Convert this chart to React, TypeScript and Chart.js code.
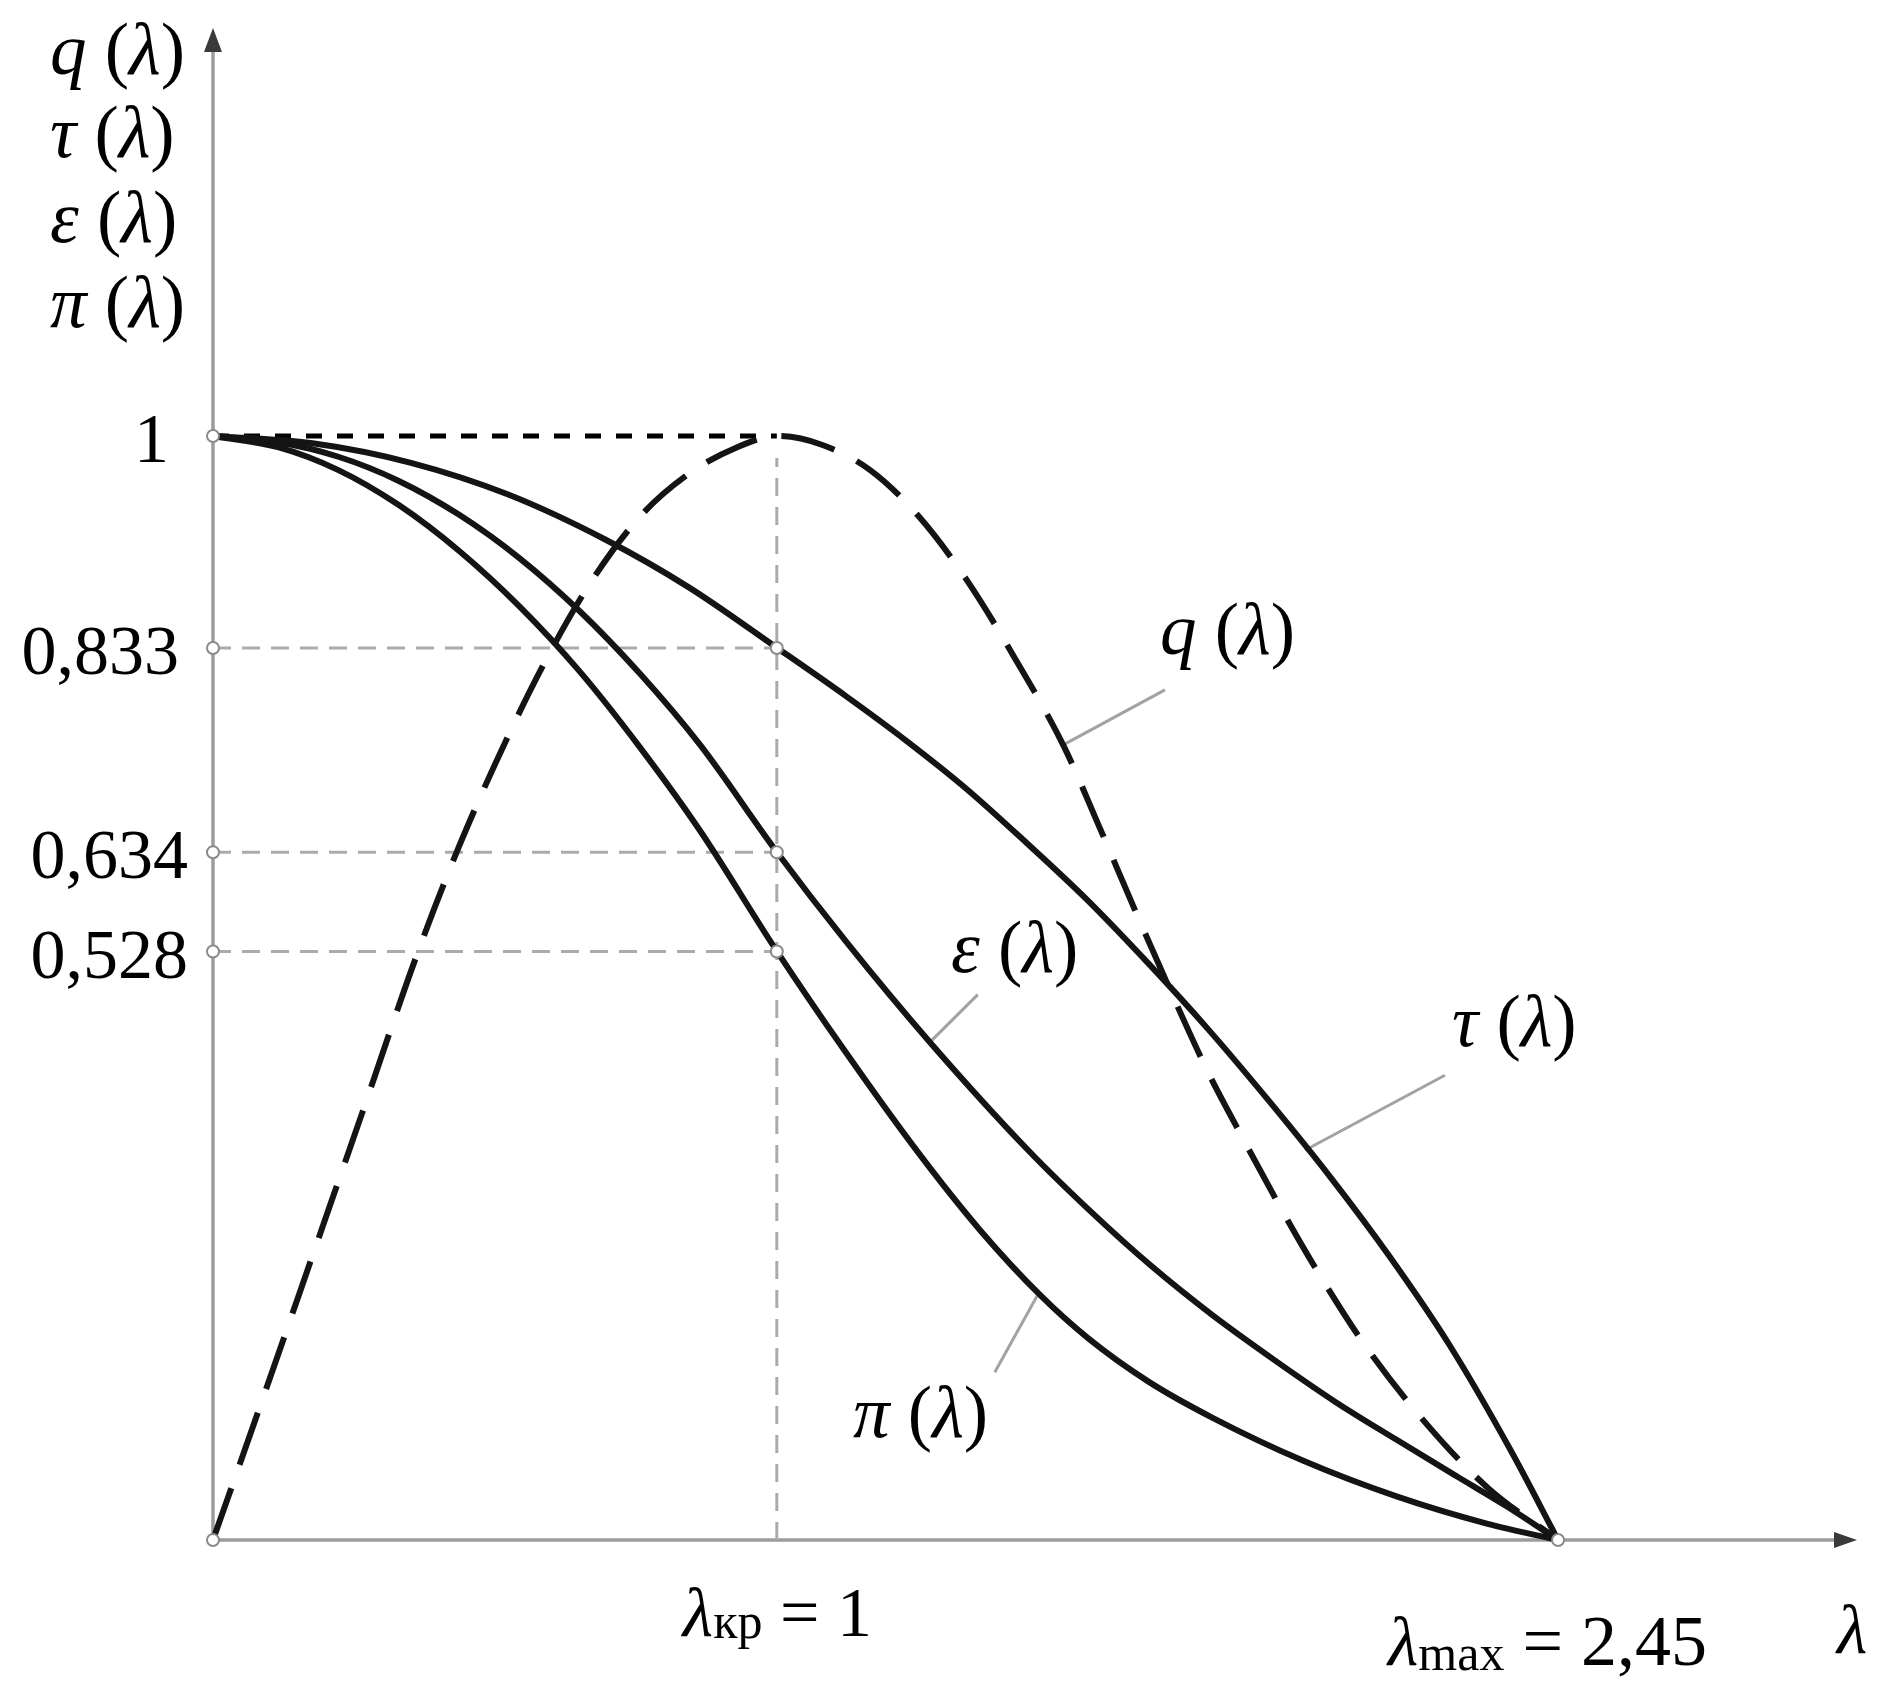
import React, { useEffect, useRef } from "react";
import { Chart, registerables } from "chart.js";

Chart.register(...registerables);

// ---- values (λ and values in the figure's drawn scale) ----
const qLambda = [0, 0.0963, 0.1844, 0.2724, 0.3715, 0.4485, 0.5366, 0.6136, 0.6907, 0.7787, 0.8668, 0.9548, 1.027, 1.1089, 1.197, 1.285, 1.3731, 1.4611, 1.5492, 1.6152, 1.6812, 1.7473, 1.8133, 1.8771, 1.9454, 2.0092, 2.0995, 2.2118, 2.3218, 2.45];
const qValues = [0, 0.1361, 0.262, 0.3878, 0.5302, 0.6287, 0.7272, 0.8038, 0.8695, 0.9275, 0.9658, 0.9899, 1.0, 0.9921, 0.9691, 0.9275, 0.8695, 0.7983, 0.7195, 0.6451, 0.5685, 0.494, 0.4229, 0.3627, 0.3003, 0.2455, 0.1755, 0.1043, 0.0474, 0];

const tauLambda = [0, 0.1844, 0.3605, 0.5366, 0.7127, 0.8668, 1.027, 1.1529, 1.263, 1.3731, 1.4831, 1.5932, 1.7033, 1.8133, 1.9234, 2.0335, 2.1435, 2.2536, 2.3637, 2.45];
const tauValues = [1, 0.9932, 0.9757, 0.9472, 0.9067, 0.8629, 0.8082, 0.7644, 0.7239, 0.6801, 0.6309, 0.5794, 0.5225, 0.4623, 0.3977, 0.3298, 0.2565, 0.1755, 0.0813, 0];

const epsLambda = [0, 0.1183, 0.2284, 0.3385, 0.4485, 0.5586, 0.6686, 0.7787, 0.8866, 1.027, 1.1529, 1.307, 1.4853, 1.5976, 1.7077, 1.8199, 1.9322, 2.0445, 2.1545, 2.2668, 2.3548, 2.45];
const epsValues = [1, 0.9943, 0.9812, 0.9593, 0.9286, 0.8892, 0.841, 0.7841, 0.7206, 0.6232, 0.5422, 0.4502, 0.3528, 0.2981, 0.2488, 0.2039, 0.1634, 0.1251, 0.0912, 0.0573, 0.031, 0];

const piLambda = [0, 0.1183, 0.2284, 0.3385, 0.4485, 0.5586, 0.6686, 0.7787, 0.8866, 1.027, 1.1529, 1.285, 1.3973, 1.5073, 1.5932, 1.7033, 1.8199, 1.9872, 2.1545, 2.3218, 2.45];
const piValues = [1, 0.9899, 0.9691, 0.9374, 0.8958, 0.8454, 0.7863, 0.7173, 0.6429, 0.5334, 0.4415, 0.3506, 0.2806, 0.2215, 0.1831, 0.1437, 0.1109, 0.0715, 0.0397, 0.0146, 0];

// marked levels on the y axis (drawn position) and their printed labels
const yMarkValues = [1, 0.808, 0.623, 0.533];
const yMarkLabels = ["1", "0,833", "0,634", "0,528"];
// marked λ positions (drawn position)
const lambdaCrit = 1.027;
const lambdaMax = 2.45;

// leader lines from curve to its label: [curve point, label end]
const qLeader = [[1.548, 0.72], [1.734, 0.77]];
const tauLeader = [[1.989, 0.353], [2.244, 0.421]];
const epsLeader = [[1.306, 0.451], [1.393, 0.494]];
const piLeader = [[1.501, 0.221], [1.424, 0.152]];

// ---- styles ----
const SERIF = '"Liberation Serif", "Times New Roman", serif';
const AXIS_COLOR = "#9c9c9c";
const GUIDE_COLOR = "#ababab";
const CURVE_COLOR = "#141414";
const FONT = 70;
const LABEL_FONT = 73;

type Run = { t: string; italic?: boolean; size?: number; dy?: number };

function drawRuns(ctx: CanvasRenderingContext2D, x: number, y: number, runs: Run[]) {
  let cx = x;
  for (const r of runs) {
    const size = r.size ?? FONT;
    ctx.font = `${r.italic ? "italic " : ""}${size}px ${SERIF}`;
    ctx.fillText(r.t, cx, y + (r.dy ?? 0));
    cx += ctx.measureText(r.t).width;
  }
}

function fnLabel(sym: string): Run[] {
  return [
    { t: sym, italic: true, size: LABEL_FONT },
    { t: " (", size: LABEL_FONT },
    { t: "λ", italic: true, size: LABEL_FONT },
    { t: ")", size: LABEL_FONT },
  ];
}

const zip = (xs: number[], ys: number[]) => xs.map((x, i) => ({ x, y: ys[i] }));
const pairs = (p: number[][]) => p.map(([x, y]) => ({ x, y }));

const decorPlugin = {
  id: "decor",
  beforeDatasetsDraw(chart: any) {
    const ctx: CanvasRenderingContext2D = chart.ctx;
    const xs = chart.scales.x;
    const ys = chart.scales.y;
    const x0 = xs.getPixelForValue(0);
    const y0 = ys.getPixelForValue(0);
    ctx.save();
    ctx.strokeStyle = AXIS_COLOR;
    ctx.lineWidth = 3.5;
    ctx.beginPath();
    ctx.moveTo(x0, y0);
    ctx.lineTo(x0, 45);
    ctx.moveTo(x0, y0);
    ctx.lineTo(1840, y0);
    ctx.stroke();
    ctx.restore();
  },
  afterDatasetsDraw(chart: any) {
    const ctx: CanvasRenderingContext2D = chart.ctx;
    const xs = chart.scales.x;
    const ys = chart.scales.y;
    const x0 = xs.getPixelForValue(0);
    const y0 = ys.getPixelForValue(0);
    ctx.save();
    // arrow heads
    ctx.fillStyle = "#3a3a3a";
    ctx.beginPath();
    ctx.moveTo(x0, 28);
    ctx.lineTo(x0 - 9, 52);
    ctx.lineTo(x0 + 9, 52);
    ctx.closePath();
    ctx.fill();
    ctx.beginPath();
    ctx.moveTo(1857, y0);
    ctx.lineTo(1834, y0 - 8);
    ctx.lineTo(1834, y0 + 8);
    ctx.closePath();
    ctx.fill();

    ctx.fillStyle = "#000";
    ctx.textBaseline = "alphabetic";
    ctx.textAlign = "left";

    // stacked axis title
    const titles = ["q", "τ", "ε", "π"];
    const titleBase = [74, 157, 242, 327];
    titles.forEach((s, i) => drawRuns(ctx, 50, titleBase[i], fnLabel(s)));

    // y marks
    const rightGap = [44, 34, 25, 25];
    ctx.font = `${FONT}px ${SERIF}`;
    ctx.textAlign = "right";
    yMarkValues.forEach((v, i) => {
      const py = ys.getPixelForValue(v);
      ctx.fillText(yMarkLabels[i], x0 - rightGap[i], py + 26);
    });
    ctx.textAlign = "left";

    // λ marks
    const xc = xs.getPixelForValue(lambdaCrit);
    drawRuns(ctx, xc - 94, 1636, [
      { t: "λ", italic: true },
      { t: "кр", size: 50, dy: 2 },
      { t: " = 1" },
    ]);
    const xm = xs.getPixelForValue(lambdaMax);
    drawRuns(ctx, xm - 170, 1665, [
      { t: "λ", italic: true },
      { t: "max", size: 50, dy: 5 },
      { t: " = 2,45", size: 72 },
    ]);
    drawRuns(ctx, 1837, 1653, [{ t: "λ", italic: true }]);

    // curve labels
    drawRuns(ctx, 1160, 654, fnLabel("q"));
    drawRuns(ctx, 1452, 1046, fnLabel("τ"));
    drawRuns(ctx, 951, 972, fnLabel("ε"));
    drawRuns(ctx, 853, 1437, fnLabel("π"));
    ctx.restore();
  },
};

export default function App() {
  const ref = useRef<HTMLCanvasElement | null>(null);

  useEffect(() => {
    if (!ref.current) return;
    const guide = (pts: { x: number; y: number }[], color: string, dash: number[], width: number) => ({
      data: pts,
      showLine: true,
      borderColor: color,
      borderWidth: width,
      borderDash: dash,
      pointRadius: 0,
      fill: false,
      clip: false,
      order: 3,
    });
    const leader = (p: number[][]) => ({
      data: pairs(p),
      showLine: true,
      borderColor: "#a2a2a2",
      borderWidth: 3,
      pointRadius: 0,
      clip: false,
      order: 2,
    });
    const curve = (xs: number[], ys: number[], dash: number[]) => ({
      data: zip(xs, ys),
      showLine: true,
      borderColor: CURVE_COLOR,
      borderWidth: 6,
      borderDash: dash,
      cubicInterpolationMode: "monotone",
      pointRadius: 0,
      fill: false,
      clip: false,
      order: 1,
    });

    const dotPts = [
      ...yMarkValues.map((v) => ({ x: 0, y: v })),
      { x: 0, y: 0 },
      ...yMarkValues.slice(1).map((v) => ({ x: lambdaCrit, y: v })),
      { x: lambdaMax, y: 0 },
    ];

    const datasets: any[] = [
      ...yMarkValues.slice(1).map((v) =>
        guide([{ x: 0, y: v }, { x: lambdaCrit, y: v }], GUIDE_COLOR, [18, 11], 3)
      ),
      guide([{ x: lambdaCrit, y: 0 }, { x: lambdaCrit, y: 0.98 }], GUIDE_COLOR, [18, 11], 3),
      guide([{ x: 0, y: 1 }, { x: lambdaCrit, y: 1 }], "#000", [16, 15], 5),
      leader(qLeader),
      leader(tauLeader),
      leader(epsLeader),
      leader(piLeader),
      curve(qLambda, qValues, [55, 25]),
      curve(tauLambda, tauValues, []),
      curve(epsLambda, epsValues, []),
      curve(piLambda, piValues, []),
      {
        data: dotPts,
        showLine: false,
        pointRadius: 6,
        pointBackgroundColor: "#ffffff",
        pointBorderColor: "#8a8a8a",
        pointBorderWidth: 2,
        clip: false,
        order: 0,
      },
    ];

    const chart = new Chart(ref.current, {
      type: "scatter",
      data: { datasets },
      options: {
        responsive: false,
        animation: false,
        devicePixelRatio: 1,
        layout: { padding: { left: 103.2, right: 35, top: 104.8, bottom: 49.6 } },
        plugins: { legend: { display: false }, tooltip: { enabled: false } },
        scales: {
          x: { type: "linear", min: -0.2, max: 3.0, display: false },
          y: { type: "linear", min: -0.1, max: 1.3, display: false },
        },
      },
      plugins: [decorPlugin],
    } as any);
    return () => chart.destroy();
  }, []);

  return (
    <div style={{ position: "absolute", left: 0, top: 0, width: 1895, height: 1700, background: "#fff" }}>
      <canvas ref={ref} width={1895} height={1700} style={{ width: 1895, height: 1700, display: "block" }} />
    </div>
  );
}
